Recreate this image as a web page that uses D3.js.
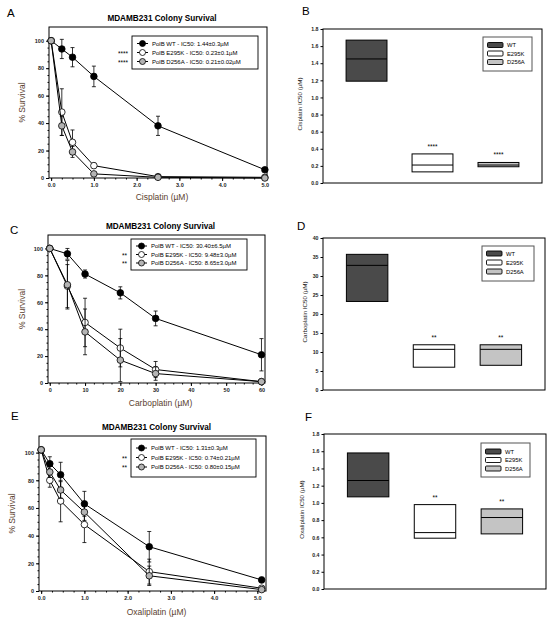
<!DOCTYPE html>
<html>
<head>
<meta charset="utf-8">
<script src="https://cdn.jsdelivr.net/npm/d3@7"></script>
<style>
  body { margin: 0; background: #fff; }
  svg { font-family: "Liberation Sans", Arial, sans-serif; }
  .tick text { font-weight: bold; fill: #222; }
</style>
</head>
<body>
<div id="chart"></div>
<script>
// ---- DATA ----
const groups = ["WT", "E295K", "D256A"];

// survival curves (% survival vs dose)
const cisDose = [0, 0.25, 0.5, 1, 2.5, 5];
const cisWT = [100, 94, 88, 74, 38, 6];
const cisWTErr = [0, 7, 7, 7.5, 7, 1];
const cisE295K = [100, 48, 26, 9, 1, 0.5];
const cisE295KErr = [0, 17, 9, 2, 0.5, 0];
const cisD256A = [100, 38, 19, 3, 0.5, 0];
const cisD256AErr = [0, 7, 4, 1, 0.5, 0];
const cisLegend = ["PolB WT - IC50: 1.44±0.3µM", "PolB E295K - IC50: 0.23±0.1µM", "PolB D256A - IC50: 0.21±0.02µM"];
const cisStars = ["", "****", "****"];

const carboDose = [0, 5, 10, 20, 30, 60];
const carboWT = [100, 96, 81, 67, 48, 21];
const carboWTErr = [0, 4, 3, 4.5, 5.5, 12];
const carboE295K = [100, 72, 45, 26, 10, 1];
const carboE295KErr = [0, 16, 18, 14, 6, 1];
const carboD256A = [100, 73, 38, 17, 7, 1];
const carboD256AErr = [0, 18, 17, 16, 5, 1];
const carboLegend = ["PolB WT - IC50: 30.40±6.5µM", "PolB E295K - IC50: 9.48±3.0µM", "PolB D256A - IC50: 8.65±3.0µM"];
const carboStars = ["", "**", "**"];

const oxaliDose = [0, 0.2, 0.45, 1, 2.5, 5.1];
const oxaliWT = [102, 92, 84, 63, 32, 8];
const oxaliWTErr = [0, 5, 9, 9, 11, 2];
const oxaliE295K = [102, 80, 65, 48, 14, 2];
const oxaliE295KErr = [0, 5, 15, 13, 9, 1];
const oxaliD256A = [102, 86, 73, 57, 11, 1];
const oxaliD256AErr = [0, 4, 6, 6, 7, 1];
const oxaliLegend = ["PolB WT - IC50: 1.31±0.3µM", "PolB E295K - IC50: 0.74±0.21µM", "PolB D256A - IC50: 0.80±0.15µM"];
const oxaliStars = ["", "**", "**"];

// IC50 boxes: [low, median, high]
const cisIC50 = [[1.19, 1.45, 1.67], [0.13, 0.21, 0.34], [0.19, 0.21, 0.24]];
const cisIC50Stars = ["", "****", "****"];
const carboIC50 = [[23.3, 32.8, 35.7], [6.0, 10.7, 11.9], [6.5, 10.7, 11.9]];
const carboIC50Stars = ["", "**", "**"];
const oxaliIC50 = [[1.07, 1.26, 1.58], [0.59, 0.655, 0.98], [0.64, 0.83, 0.93]];
const oxaliIC50Stars = ["", "**", "**"];

// ---- STYLE ----
const markerFill = ["#000", "#fff", "#b4b4b4"];
const boxFill = ["#4a4a4a", "#fff", "#c4c4c4"];
const labelColor = "#5b3f2f";

const svg = d3.select("#chart").append("svg")
    .attr("width", 550)
    .attr("height", 622);

function panelLetter(txt, x, y) {
    svg.append("text").attr("x", x).attr("y", y)
        .attr("font-size", 11.5).text(txt);
}

// ---- SURVIVAL PANEL ----
function drawSurvival(cfg) {
    const x = d3.scaleLinear().domain(cfg.xDomain).range([cfg.l, cfg.r]);
    const y = d3.scaleLinear().domain(cfg.yDomain).range([cfg.b, cfg.t]);

    // minor ticks
    svg.append("g").attr("transform", `translate(0,${cfg.b})`)
        .call(d3.axisBottom(x).tickValues(cfg.xMinor).tickSize(1.5).tickFormat(""))
        .call(g => g.select(".domain").remove());
    svg.append("g").attr("transform", `translate(${cfg.l},0)`)
        .call(d3.axisLeft(y).tickValues(d3.range(0, 101, 5)).tickSize(1.5).tickFormat(""))
        .call(g => g.select(".domain").remove());

    // major ticks
    svg.append("g").attr("transform", `translate(0,${cfg.b})`)
        .call(d3.axisBottom(x).tickValues(cfg.xTicks).tickSize(3).tickPadding(2))
        .call(g => g.select(".domain").remove())
        .selectAll("text").attr("font-size", 5.5);
    svg.append("g").attr("transform", `translate(${cfg.l},0)`)
        .call(d3.axisLeft(y).tickValues(d3.range(0, 101, 20)).tickSize(3).tickPadding(2))
        .call(g => g.select(".domain").remove())
        .selectAll("text").attr("font-size", 5.5);

    // frame
    svg.append("rect")
        .attr("x", cfg.l).attr("y", cfg.t)
        .attr("width", cfg.r - cfg.l).attr("height", cfg.b - cfg.t)
        .attr("fill", "none").attr("stroke", "#000").attr("stroke-width", 1);

    // title + labels
    svg.append("text").attr("x", (cfg.l + cfg.r) / 2 + 4).attr("y", cfg.t - 6)
        .attr("text-anchor", "middle").attr("font-size", 8.2).attr("font-weight", "bold")
        .text("MDAMB231 Colony Survival");
    svg.append("text").attr("x", (cfg.l + cfg.r) / 2 + 4).attr("y", cfg.xLabelY)
        .attr("text-anchor", "middle").attr("font-size", 8.5).attr("fill", labelColor)
        .text(cfg.xLabel);
    svg.append("text")
        .attr("transform", `translate(${cfg.yLabelX},${(cfg.t + cfg.b) / 2}) rotate(-90)`)
        .attr("text-anchor", "middle").attr("font-size", 8.5).attr("fill", labelColor)
        .text("% Survival");

    const line = d3.line().x(d => x(d.dose)).y(d => y(d.v));

    cfg.series.forEach((s, i) => {
        const pts = cfg.dose.map((d, k) => ({ dose: d, v: s.values[k], e: s.err[k] }));
        svg.append("path").datum(pts)
            .attr("d", line).attr("fill", "none")
            .attr("stroke", "#000").attr("stroke-width", 1);

        const eb = svg.append("g").attr("stroke", "#000").attr("stroke-width", 0.8);
        pts.filter(p => p.e > 0).forEach(p => {
            const cx = x(p.dose);
            eb.append("line").attr("x1", cx).attr("x2", cx)
                .attr("y1", y(p.v - p.e)).attr("y2", y(p.v + p.e));
            [p.v - p.e, p.v + p.e].forEach(v => {
                eb.append("line").attr("x1", cx - 2).attr("x2", cx + 2)
                    .attr("y1", y(v)).attr("y2", y(v));
            });
        });

        svg.append("g").selectAll("circle")
            .data(pts).enter().append("circle")
            .attr("cx", d => x(d.dose))
            .attr("cy", d => y(Math.max(d.v, 0)))
            .attr("r", 3.3)
            .attr("fill", markerFill[i])
            .attr("stroke", "#000").attr("stroke-width", 0.8);
    });

    // legend
    const lg = cfg.legend;
    svg.append("rect").attr("x", lg.x).attr("y", lg.y)
        .attr("width", lg.w).attr("height", lg.h)
        .attr("fill", "#fff").attr("stroke", "#000").attr("stroke-width", 0.9);
    cfg.legendText.forEach((t, i) => {
        const ry = lg.y + lg.first + i * lg.step;
        svg.append("line").attr("x1", lg.x + 5).attr("x2", lg.x + 16)
            .attr("y1", ry).attr("y2", ry).attr("stroke", "#000").attr("stroke-width", 1);
        svg.append("circle").attr("cx", lg.x + 10.5).attr("cy", ry).attr("r", 3)
            .attr("fill", markerFill[i]).attr("stroke", "#000").attr("stroke-width", 0.8);
        svg.append("text").attr("x", lg.x + 20).attr("y", ry + 2)
            .attr("font-size", 6).text(t);
        if (cfg.stars[i]) {
            svg.append("text").attr("x", lg.x - 4).attr("y", ry + 3)
                .attr("text-anchor", "end").attr("font-size", 6.5).text(cfg.stars[i]);
        }
    });
}

// ---- IC50 BOX PANEL ----
function drawBoxes(cfg) {
    const x = d3.scaleBand().domain(groups).range([cfg.l, cfg.r])
        .paddingInner(0.38).paddingOuter(0.35);
    const y = d3.scaleLinear().domain(cfg.yDomain).range([cfg.b, cfg.t]);

    svg.append("g").attr("transform", `translate(${cfg.l},0)`)
        .call(d3.axisLeft(y).tickValues(cfg.yTicks).tickSize(2.5).tickPadding(2).tickFormat(d3.format(cfg.fmt)))
        .call(g => g.select(".domain").remove())
        .selectAll("text").attr("font-size", 5.2);

    svg.append("rect")
        .attr("x", cfg.l).attr("y", cfg.t)
        .attr("width", cfg.r - cfg.l).attr("height", cfg.b - cfg.t)
        .attr("fill", "none").attr("stroke", "#000").attr("stroke-width", 1);

    svg.append("text")
        .attr("transform", `translate(${cfg.yLabelX},${(cfg.t + cfg.b) / 2 - 2}) rotate(-90)`)
        .attr("text-anchor", "middle").attr("font-size", 6.2).attr("fill", "#222")
        .text(cfg.yLabel);

    cfg.data.forEach((d, i) => {
        const bx = x(groups[i]);
        svg.append("rect").attr("x", bx).attr("y", y(d[2]))
            .attr("width", x.bandwidth()).attr("height", y(d[0]) - y(d[2]))
            .attr("fill", boxFill[i]).attr("stroke", "#000").attr("stroke-width", 1);
        svg.append("line").attr("x1", bx).attr("x2", bx + x.bandwidth())
            .attr("y1", y(d[1])).attr("y2", y(d[1]))
            .attr("stroke", "#000").attr("stroke-width", 1);
        if (cfg.stars[i]) {
            svg.append("text").attr("x", bx + x.bandwidth() / 2).attr("y", y(d[2]) - 5)
                .attr("text-anchor", "middle").attr("font-size", 6.5).text(cfg.stars[i]);
        }
    });

    const lg = cfg.legend;
    svg.append("rect").attr("x", lg.x).attr("y", lg.y)
        .attr("width", lg.w).attr("height", lg.h)
        .attr("fill", "#fff").attr("stroke", "#555").attr("stroke-width", 1);
    groups.forEach((g, i) => {
        const ry = lg.y + lg.first + i * lg.step;
        svg.append("rect").attr("x", lg.x + 4.5).attr("y", ry - 2.5)
            .attr("width", 15.5).attr("height", 5).attr("rx", 1)
            .attr("fill", boxFill[i]).attr("stroke", "#000").attr("stroke-width", 0.9);
        svg.append("text").attr("x", lg.x + 24).attr("y", ry + 2.2)
            .attr("font-size", 5.8).text(g);
    });
}

// ---- PANELS ----
panelLetter("A", 7, 17);
drawSurvival({
    l: 49, r: 267, t: 27, b: 178,
    xDomain: [-0.05, 5.05], yDomain: [0, 110],
    xTicks: [0, 1, 2, 3, 4, 5], xMinor: d3.range(0, 5.01, 0.25),
    dose: cisDose,
    series: [
        { values: cisWT, err: cisWTErr },
        { values: cisE295K, err: cisE295KErr },
        { values: cisD256A, err: cisD256AErr }
    ],
    legendText: cisLegend, stars: cisStars,
    legend: { x: 132, y: 36, w: 126, h: 33, first: 7.5, step: 9 },
    xLabel: "Cisplatin (µM)", xLabelY: 200, yLabelX: 25
});

panelLetter("B", 302, 15);
drawBoxes({
    l: 323, r: 542, t: 29, b: 183,
    yDomain: [0, 1.8], yTicks: d3.range(0, 1.81, 0.2), fmt: ".1f",
    data: cisIC50, stars: cisIC50Stars,
    legend: { x: 483, y: 37, w: 49, h: 34, first: 8, step: 8.5 },
    yLabel: "Cisplatin IC50 (µM)", yLabelX: 302
});

panelLetter("C", 10, 234);
drawSurvival({
    l: 48, r: 265, t: 235, b: 383,
    xDomain: [-0.5, 61], yDomain: [0, 110],
    xTicks: [0, 10, 20, 30, 40, 50, 60], xMinor: d3.range(0, 61, 2.5),
    dose: carboDose,
    series: [
        { values: carboWT, err: carboWTErr },
        { values: carboE295K, err: carboE295KErr },
        { values: carboD256A, err: carboD256AErr }
    ],
    legendText: carboLegend, stars: carboStars,
    legend: { x: 131, y: 239, w: 116, h: 31, first: 7, step: 8.5 },
    xLabel: "Carboplatin (µM)", xLabelY: 406, yLabelX: 25
});

panelLetter("D", 297, 230);
drawBoxes({
    l: 323, r: 545, t: 238, b: 390,
    yDomain: [0, 40], yTicks: d3.range(0, 41, 5), fmt: "d",
    data: carboIC50, stars: carboIC50Stars,
    legend: { x: 482, y: 246, w: 52, h: 35, first: 7.5, step: 9 },
    yLabel: "Carboplatin IC50 (µM)", yLabelX: 307
});

panelLetter("E", 11, 420);
drawSurvival({
    l: 39, r: 266, t: 436, b: 591,
    xDomain: [-0.05, 5.2], yDomain: [0, 112],
    xTicks: [0, 1, 2, 3, 4, 5], xMinor: d3.range(0, 5.01, 0.25),
    dose: oxaliDose,
    series: [
        { values: oxaliWT, err: oxaliWTErr },
        { values: oxaliE295K, err: oxaliE295KErr },
        { values: oxaliD256A, err: oxaliD256AErr }
    ],
    legendText: oxaliLegend, stars: oxaliStars,
    legend: { x: 131, y: 439, w: 125, h: 38, first: 9, step: 9.5 },
    xLabel: "Oxaliplatin (µM)", xLabelY: 615, yLabelX: 15
});

panelLetter("F", 305, 421);
drawBoxes({
    l: 324, r: 546, t: 434, b: 589,
    yDomain: [0, 1.8], yTicks: d3.range(0, 1.81, 0.2), fmt: ".1f",
    data: oxaliIC50, stars: oxaliIC50Stars,
    legend: { x: 481, y: 443, w: 49, h: 34, first: 8.5, step: 8.5 },
    yLabel: "Oxaliplatin IC50 (µM)", yLabelX: 304
});
</script>
</body>
</html>
